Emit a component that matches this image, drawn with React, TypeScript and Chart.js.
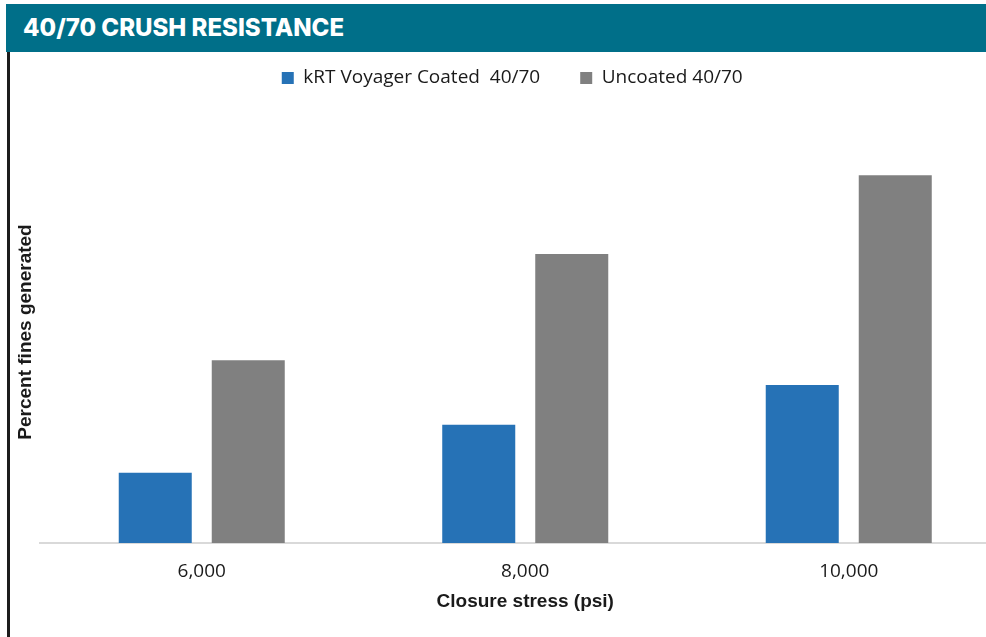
import React, { useEffect, useRef } from 'react';
import { Chart, registerables } from 'chart.js';

Chart.register(...registerables);

const pressures = ['6,000', '8,000', '10,000'];
const coated = [2.0, 3.36, 4.49];
const uncoated = [5.2, 8.22, 10.46];
const seriesNames = ['kRT Voyager Coated  40/70', 'Uncoated 40/70'];

const BLUE = '#2672B6';
const GRAY = '#808080';

// legend keeps its wide item gap but needs a fixed height so the plot starts lower
const legendHeight = {
  id: 'legendHeight',
  beforeLayout(chart: any) {
    const legend = chart.legend;
    if (!legend) return;
    const proto = Object.getPrototypeOf(legend);
    legend.fit = function () {
      proto.fit.call(this);
      this.height = 92.5;
    };
  },
};

const App: React.FC = () => {
  const canvasRef = useRef<HTMLCanvasElement | null>(null);

  useEffect(() => {
    const el = canvasRef.current;
    if (!el) return;
    const ctx = el.getContext('2d');
    if (!ctx) return;

    const chart = new Chart(ctx, {
      type: 'bar',
      data: {
        labels: pressures,
        datasets: [
          {
            label: seriesNames[0],
            data: coated,
            backgroundColor: BLUE,
            categoryPercentage: 0.575,
            barPercentage: 0.785,
          },
          {
            label: seriesNames[1],
            data: uncoated,
            backgroundColor: GRAY,
            categoryPercentage: 0.575,
            barPercentage: 0.785,
          },
        ],
      },
      options: {
        responsive: true,
        maintainAspectRatio: false,
        animation: false,
        layout: {
          padding: { top: -23.5, left: 4, right: 5.5, bottom: 24.1 },
        },
        plugins: {
          tooltip: { enabled: false },
          legend: {
            position: 'top',
            labels: {
              boxWidth: 12,
              boxHeight: 12,
              padding: 40,
              color: '#1a1a1a',
              font: { family: '"Open Sans", sans-serif', size: 19 },
            },
          },
        },
        scales: {
          x: {
            grid: { display: false, drawTicks: false },
            border: { display: true, color: '#d9d9d9', width: 2 },
            afterFit: (scale: any) => {
              scale.height = 69.9;
            },
            ticks: {
              padding: 17,
              color: '#1a1a1a',
              font: { family: '"Open Sans", sans-serif', size: 19 },
            },
            title: {
              display: true,
              text: 'Closure stress (psi)',
              color: '#1a1a1a',
              padding: { top: 4, bottom: 0 },
              font: { family: '"Liberation Sans", Arial, sans-serif', size: 19, weight: 'bold' },
            },
          },
          y: {
            min: 0,
            max: 12,
            grid: { display: false, drawTicks: false },
            border: { display: false },
            ticks: { display: false },
            afterFit: (scale: any) => {
              scale.width = 26;
            },
            title: {
              display: true,
              text: 'Percent fines generated',
              color: '#1a1a1a',
              padding: 0,
              font: { family: '"Liberation Sans", Arial, sans-serif', size: 19, weight: 'bold' },
            },
          },
        },
      },
      plugins: [legendHeight],
    });

    return () => {
      chart.destroy();
    };
  }, []);

  return (
    <div
      style={{
        position: 'absolute',
        top: 0,
        left: 0,
        width: 986,
        height: 637,
        overflow: 'hidden',
        background: '#fff',
      }}
    >
      <div
        style={{
          position: 'absolute',
          left: 6,
          top: 4,
          width: 980,
          height: 48,
          background: '#006F89',
          color: '#fff',
          fontFamily: 'Inter, "Open Sans", sans-serif',
          fontWeight: 800,
          fontSize: 24,
          lineHeight: '48px',
          paddingLeft: 17,
          boxSizing: 'border-box',
        }}
      >
        40/70 CRUSH RESISTANCE
      </div>
      <div
        style={{
          position: 'absolute',
          left: 7,
          top: 52,
          width: 3,
          height: 585,
          background: '#1c1c1c',
        }}
      />
      <div style={{ position: 'absolute', left: 10, top: 52, width: 1006, height: 585 }}>
        <canvas ref={canvasRef} />
      </div>
    </div>
  );
};

export default App;
